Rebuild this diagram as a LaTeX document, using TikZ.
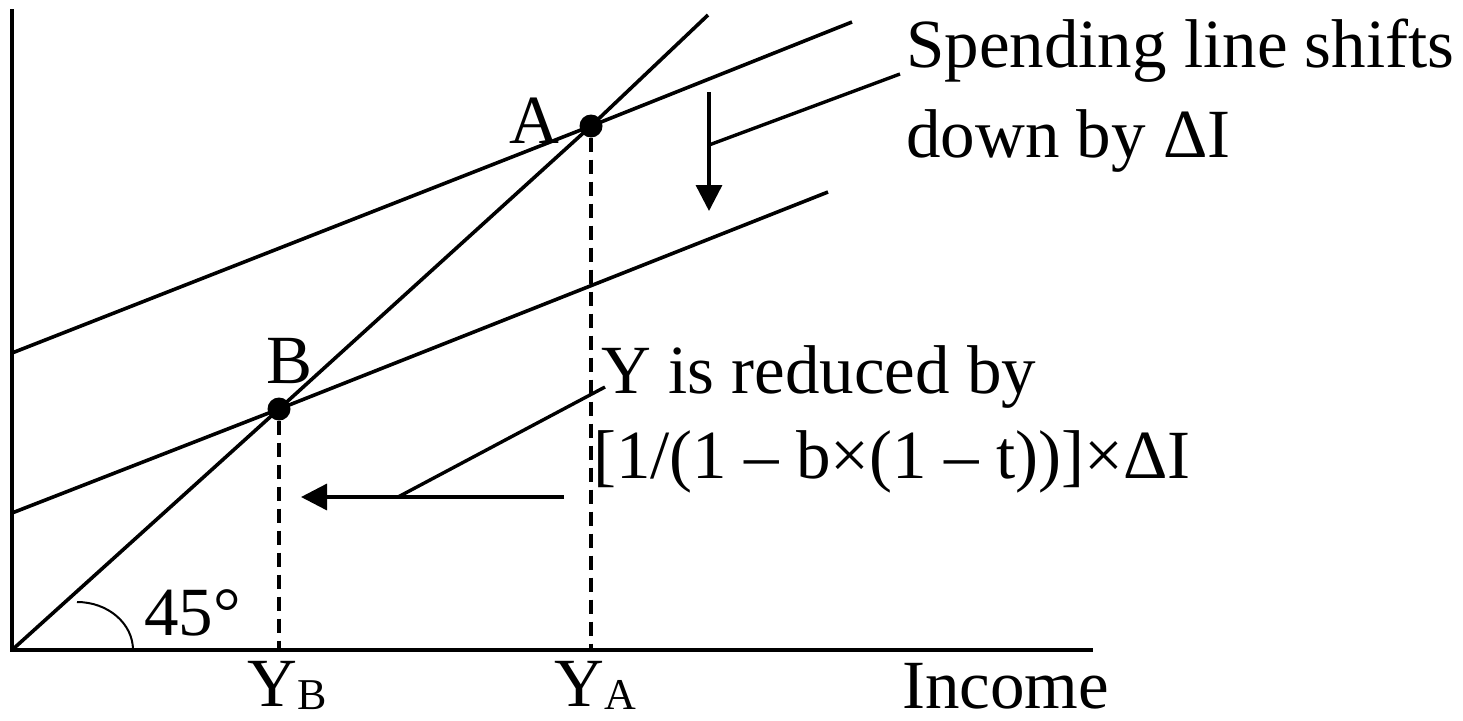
\documentclass[tikz,border=0pt]{standalone}
\usepackage{fontspec}
\setmainfont{Liberation Serif}
\usetikzlibrary{arrows.meta}
\begin{document}
\begin{tikzpicture}[x=1pt,y=-1pt,
  axisline/.style={line width=4.5pt},
  curve/.style={line width=3.6pt},
  guide/.style={line width=3.2pt, dash pattern=on 14pt off 8pt},
  shiftarrow/.style={line width=3.4pt, -{Triangle[length=26pt,width=26pt]}},
  leader/.style={line width=3.4pt},
  dot/.style={circle, fill=black, inner sep=0pt, minimum size=23pt},
  lbl/.style={anchor=base west, inner sep=0pt, font=\fontsize{69}{80}\selectfont}]
\useasboundingbox (0,0) rectangle (1463,720);
% key points
\coordinate (O) at (12,650);
\coordinate (Ytop) at (12,9);
\coordinate (Xend) at (1093,650);
\coordinate (L45) at (708,15);
\coordinate (U0) at (12,353);
\coordinate (U1) at (852,22);
\coordinate (D0) at (12,513);
\coordinate (D1) at (828,192);
\node[dot] (A) at (591,126) {};
\node[dot] (B) at (279,409) {};
% axes
\draw[axisline] (Ytop) -- (O) -- (Xend);
% lines
\draw[curve] (O) -- (B.center) -- (A.center) -- (L45);
\draw[curve] (U0) -- (A.center) -- (U1);
\draw[curve] (D0) -- (B.center) -- (D1);
% dashed guides
\draw[guide] (A.south) -- (A |- O);
\draw[guide] (B.south) -- (B |- O);
% 45 degree arc
\draw[line width=2pt] (77,602) arc[start angle=-90, end angle=0, x radius=56, y radius=48];
% shift down arrow
\coordinate (d0) at (709,92);
\coordinate (d1) at (709,211);
\coordinate (dl) at (709,145);
\draw[shiftarrow] (d0) -- (d1);
% reduction arrow
\coordinate (h0) at (564,497);
\coordinate (h1) at (301,497);
\coordinate (hl) at (398,497);
\draw[shiftarrow] (h0) -- (h1);
% labels
\node[lbl] (s1) at (906,67) {Spending line shifts};
\node[lbl] (s2) at (906,157) {down by ΔI};
\node[lbl] (r1) at (601,393) {Y is reduced by};
\node[lbl] (r2) at (593,478) {[1/(1 – b×(1 – t))]×ΔI};
\node[lbl] (la) at (509,143) {A};
\node[lbl] (lb) at (266,383) {B};
\node[lbl] (deg) at (144,635) {45°};
\node[lbl] (yb) at (247,706) {Y\raisebox{-3pt}{\fontsize{44}{44}\selectfont B}};
\node[lbl] (ya) at (554,706) {Y\raisebox{-3pt}{\fontsize{44}{44}\selectfont A}};
\node[lbl] (inc) at (902,708) {Income};
% leaders
\coordinate (sl) at (900,74);
\coordinate (rl) at (605,387);
\draw[leader] (dl) -- (sl);
\draw[leader] (hl) -- (rl);
\end{tikzpicture}
\end{document}
